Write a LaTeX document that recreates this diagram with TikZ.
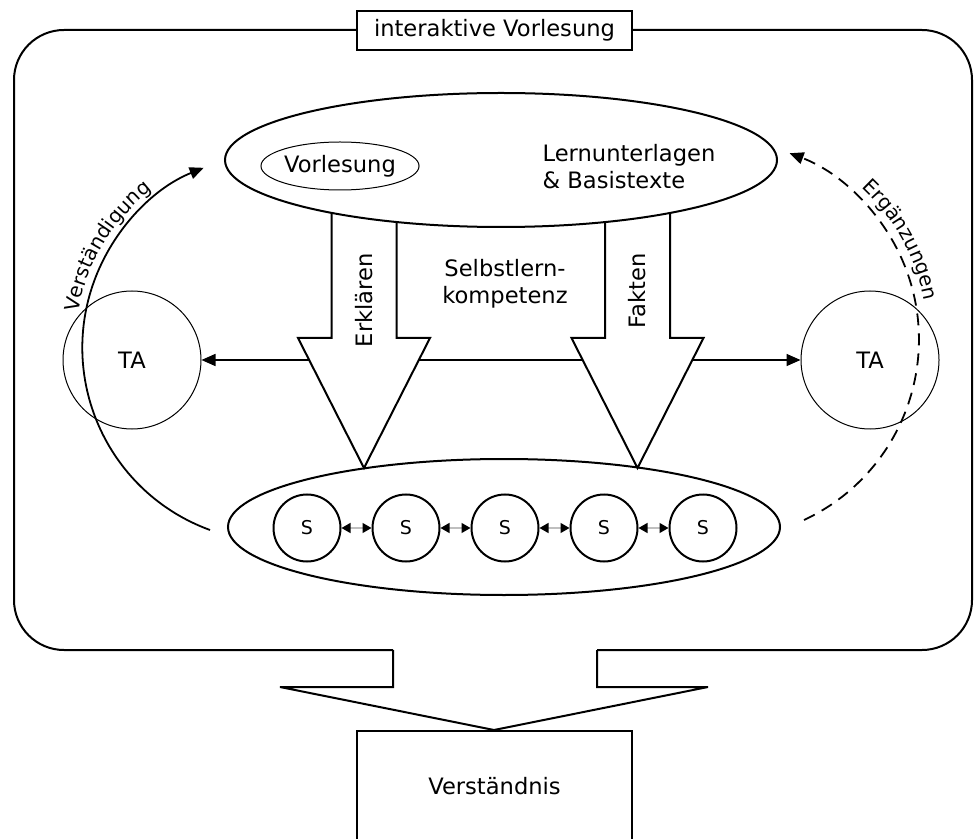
\documentclass[tikz,border=0pt]{standalone}
\usepackage{fontspec}
\setmainfont{DejaVu Sans}
\usepackage{tikz}
\usetikzlibrary{shapes.geometric}
\usetikzlibrary{arrows.meta}
\usetikzlibrary{decorations.text}
\tikzstyle{box}=[draw, line width=0.9pt, fill=white, inner sep=0pt, minimum width=137.5pt]
\tikzstyle{blob}=[draw, ellipse, line width=1pt, fill=white, inner sep=0pt]
\tikzstyle{tacircle}=[draw, circle, line width=0.5pt, inner sep=0pt, minimum size=69pt]
\tikzstyle{scircle}=[draw, circle, line width=1pt, inner sep=0pt, minimum size=33.5pt, font=\fontsize{9.5}{11}\selectfont]
\tikzstyle{bigarrow}=[draw, line width=1pt, fill=white, line join=miter]
\tikzstyle{flowline}=[line width=0.8pt, >={Triangle[length=7pt, width=6pt]}]
\tikzstyle{sline}=[draw=gray!50, line width=0.6pt, {Triangle[length=4.5pt, width=5pt, color=black]}-{Triangle[length=4.5pt, width=5pt, color=black]}]
\tikzstyle{arclabel}=[decorate, decoration={text along path, text align=center}]

\begin{document}
\begin{tikzpicture}[x=0.5pt, y=0.5pt, font=\fontsize{11.3}{13.5}\selectfont]
        \useasboundingbox (0,0) rectangle (974,-839);
        % frame and output arrow
        \draw[line width=1pt, rounded corners=25pt] (393,-650) -- (14,-650) -- (14,-30) -- (972,-30) -- (972,-650) -- (597,-650);
        \draw[line width=1pt] (393,-650) -- (393,-687) -- (280,-687) -- (494,-730) -- (708,-687) -- (597,-687) -- (597,-650);
        \node[box, minimum height=19.5pt] (title) at (494.5,-30.5) {interaktive Vorlesung};
        \node[box, minimum height=55.5pt] (result) at (494.5,-786.5) {Verständnis};

        \node[tacircle] (TA1) at (132,-360) {TA};
        \node[tacircle] (TA2) at (870,-360) {TA};
        \draw[flowline, <->] (TA1) -- (TA2);

        \node[blob, minimum width=276pt, minimum height=68pt] (group) at (504,-527) {};
        \foreach \x [count=\i] in {307,406,505,604,703}
            \node[scircle] (S\i) at (\x,-528) {S};
        \foreach \i/\j in {1/2,2/3,3/4,4/5}
            \draw[sline] (S\i) -- (S\j);

        \foreach \c in {364,637.5}
            \draw[bigarrow] ({\c-32.5},-200) -- ({\c-32.5},-338) -- ({\c-66},-338) -- (\c,-468)
                -- ({\c+66},-338) -- ({\c+32.5},-338) -- ({\c+32.5},-200);
        \node[rotate=90, anchor=east, inner sep=0pt] (explain) at (364,-253) {Erklären};
        \node[rotate=90, anchor=east, inner sep=0pt] (facts) at (637.5,-253) {Fakten};
        \node[align=center] (self) at (505,-284) {Selbstlern-\\kompetenz};

        \node[blob, minimum width=276pt, minimum height=67pt] (source) at (501,-160) {};
        \node[draw, ellipse, line width=0.5pt, inner sep=0pt, minimum width=71pt, minimum height=24pt] (lecture) at (340,-166) {Vorlesung};
        \node[align=left] (docs) at (629,-167) {Lernunterlagen\\\& Basistexte};

        % feedback arcs
        \coordinate (vstart) at (210,-530);
        \draw[line width=0.9pt, -{Triangle[length=7pt, width=6pt]}] (vstart) arc[start angle=250, end angle=112, radius=97pt];
        \path[arclabel, decoration={text={|\fontsize{10}{12}\selectfont|Verständigung}}]
            (276,-348) ++(182:100.5pt) arc[start angle=182, end angle=116, radius=100.5pt];
        \coordinate (estart) at (804,-520);
        \draw[line width=0.9pt, dash pattern=on 6pt off 4pt, -{Triangle[length=7pt, width=6pt]}] (estart) arc[start angle=-65, end angle=69.5, radius=99.5pt];
        \path[arclabel, decoration={text={|\fontsize{10}{12}\selectfont|Ergänzungen}}]
            (720,-340) ++(60:104pt) arc[start angle=60, end angle=-2, radius=104pt];
    \end{tikzpicture}
\end{document}
